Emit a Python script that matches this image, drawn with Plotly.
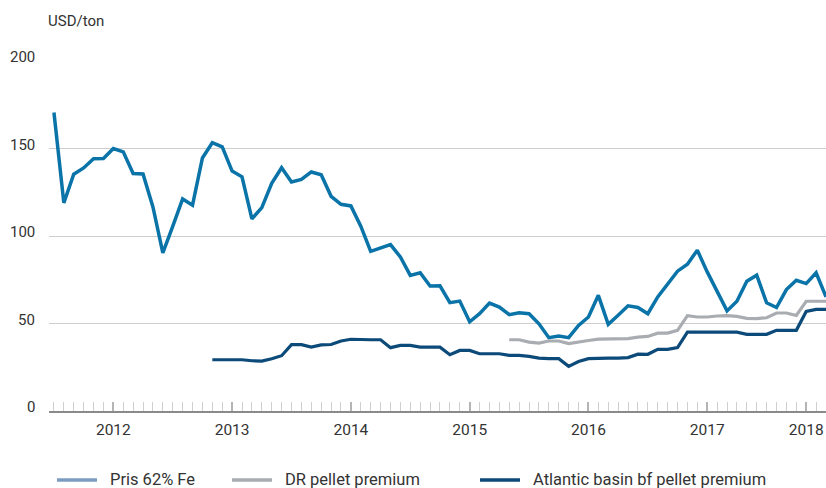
import plotly.graph_objects as go

# Months since Jan 2012 (0 = Jan 2012)
months = list(range(79))

pris_62_fe = [170.6, 118.9, 135.3, 138.9, 144.1, 144.3, 150.0, 148.1, 135.7, 135.5,
              116.6, 90.3, 105.5, 121.2, 117.6, 144.6, 153.3, 150.9, 137.1, 133.8,
              109.8, 116.2, 130.1, 139.0, 130.9, 132.3, 136.6, 135.0, 122.7, 118.1,
              117.2, 105.6, 91.2, 93.4, 95.1, 88.0, 77.5, 79.0, 71.4, 71.5,
              61.9, 62.8, 51.0, 55.6, 61.7, 59.4, 55.0, 56.1, 55.6, 49.8,
              41.9, 42.8, 41.9, 48.9, 53.7, 66.1, 49.5, 54.7, 60.1, 59.2,
              55.6, 65.2, 72.8, 79.9, 83.9, 91.9, 79.5, 68.0, 57.2, 62.7,
              74.2, 77.6, 61.8, 59.1, 69.4, 74.7, 72.8, 79.0, 65.2]

atlantic_start = 16
atlantic_bf = [29.3, 29.3, 29.3, 29.3, 28.7, 28.5, 29.9, 31.6, 37.9, 37.9,
               36.5, 37.8, 38.0, 40.0, 41.0, 40.7, 40.7, 40.7, 36.2, 37.5,
               37.5, 36.5, 36.5, 36.5, 32.2, 34.6, 34.6, 32.7, 32.7, 32.7,
               31.8, 31.8, 31.2, 30.2, 29.9, 29.9, 25.5, 28.3, 29.9, 30.2,
               30.2, 30.2, 30.5, 32.5, 32.4, 35.2, 35.2, 36.2, 45.1, 45.1,
               45.1, 45.1, 45.1, 45.1, 43.8, 43.8, 43.8, 46.1, 46.1, 46.1,
               56.9, 58.1, 58.1]

dr_start = 46
dr_pellet = [40.7, 40.7, 39.4, 38.8, 40.0, 40.0, 38.5, 39.2, 40.3, 41.1,
             41.3, 41.3, 41.4, 42.2, 42.6, 44.5, 44.5, 46.1, 54.5, 53.7,
             53.7, 54.3, 54.5, 54.1, 52.9, 52.8, 53.3, 56.0, 56.0, 54.6,
             62.7, 62.7, 62.7]

year_tick_pos = [6, 18, 30, 42, 54, 66, 76]
year_labels = ["2012", "2013", "2014", "2015", "2016", "2017", "2018"]
y_ticks = [0, 50, 100, 150, 200]

series_names = ["Pris 62% Fe", "DR pellet premium", "Atlantic basin bf pellet premium"]
line_colors = ["#0a74a9", "#a9adb1", "#0c4a7a"]
legend_colors = ["#7d9cc1", "#a9adb1", "#0c4a7a"]

FONT = "Roboto"
TXT = "#333333"

fig = go.Figure()
fig.add_trace(go.Scatter(x=months[atlantic_start:atlantic_start + len(atlantic_bf)], y=atlantic_bf,
                         mode="lines", line=dict(color=line_colors[2], width=3.2),
                         name=series_names[2], showlegend=False))
fig.add_trace(go.Scatter(x=months[dr_start:dr_start + len(dr_pellet)], y=dr_pellet,
                         mode="lines", line=dict(color=line_colors[1], width=3.2),
                         name=series_names[1], showlegend=False))
fig.add_trace(go.Scatter(x=months, y=pris_62_fe, mode="lines",
                         line=dict(color=line_colors[0], width=3.5),
                         name=series_names[0], showlegend=False))

W, H = 826, 488
ml, mr, mt, mb = 49, 0, 61, 77
pw, ph = W - ml - mr, H - mt - mb

def px_x(p):
    return (p - ml) / pw

def px_y(p):
    return (H - mb - p) / ph

fig.update_layout(
    width=W, height=H,
    margin=dict(l=ml, r=mr, t=mt, b=mb),
    paper_bgcolor="white", plot_bgcolor="white",
    font=dict(family=FONT, size=15, color=TXT),
    showlegend=False,
    xaxis=dict(range=[-0.5, 78], tickvals=year_tick_pos, ticktext=year_labels,
               ticks="inside", ticklen=9, tickwidth=2, tickcolor="#b4b4b4",
               ticklabelstandoff=4,
               showgrid=False, zeroline=False, showline=True, linecolor="#8a8a8a",
               linewidth=1.5, tickfont=dict(size=15.5, color=TXT),
               minor=dict(dtick=1, tick0=0, ticks="inside", ticklen=9,
                          tickwidth=1, tickcolor="#cfcfcf", showgrid=False)),
    yaxis=dict(range=[0, 200], tickvals=y_ticks, showticklabels=False,
               showgrid=True, gridcolor="#cdcdcd", gridwidth=1, zeroline=False,
               ticks=""),
)

annotations = []
for v in y_ticks:
    annotations.append(dict(x=px_x(37), xref="paper", y=v, yref="y", text=str(v),
                            showarrow=False, xanchor="right", yanchor="middle",
                            yshift=4, font=dict(size=15, color=TXT)))
annotations.append(dict(x=px_x(46), xref="paper", y=px_y(21), yref="paper",
                        text="USD/ton", showarrow=False, xanchor="left",
                        yanchor="middle", font=dict(size=15, color=TXT)))

shapes = []
leg_line_x = [57, 232, 480]
leg_text_x = [109, 284, 532]
leg_y = 479
for i in range(3):
    shapes.append(dict(type="line", xref="paper", yref="paper",
                       x0=px_x(leg_line_x[i]), x1=px_x(leg_line_x[i] + 40),
                       y0=px_y(leg_y + 1), y1=px_y(leg_y + 1),
                       line=dict(color=legend_colors[i], width=3.5)))
    annotations.append(dict(x=px_x(leg_text_x[i]), xref="paper", y=px_y(leg_y),
                            yref="paper", text=series_names[i], showarrow=False,
                            xanchor="left", yanchor="middle", borderpad=0,
                            font=dict(size=16.5, color=TXT)))

fig.update_layout(annotations=annotations, shapes=shapes)
fig.write_html("out.html", config={"displayModeBar": False},
               post_script="document.body.style.margin='0';document.body.style.overflow='hidden';")
